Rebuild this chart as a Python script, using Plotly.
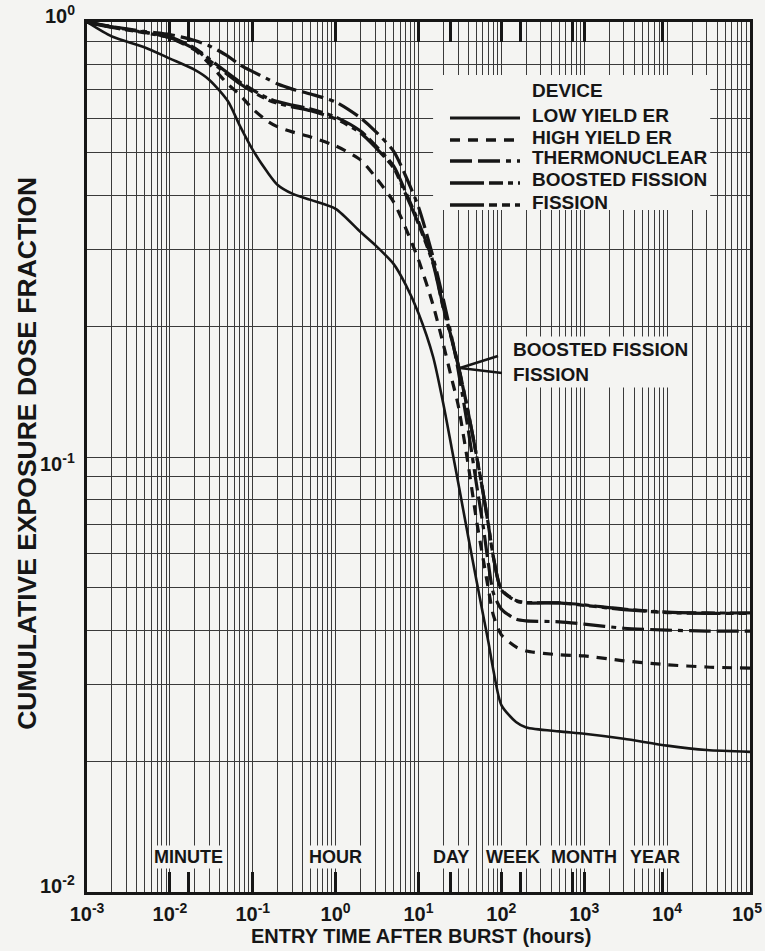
import numpy as np
import plotly.graph_objects as go

# ---------------- data ----------------
time_hours = [0.001, 0.002, 0.005, 0.01, 0.02, 0.03, 0.05, 0.07, 0.1, 0.15, 0.2, 0.3, 0.5,
              1, 2, 3, 5, 7, 10, 15, 20, 25, 30, 40, 50, 60, 70, 80, 100, 150, 200,
              500, 1000, 3000, 10000, 30000, 100000]

low_yield_er = [1.0, 0.926, 0.874, 0.824, 0.776, 0.736, 0.658, 0.577, 0.508, 0.452, 0.422, 0.403, 0.390,
                0.372, 0.329, 0.307, 0.278, 0.249, 0.214, 0.170, 0.132, 0.1055, 0.0877, 0.0652, 0.0521,
                0.0435, 0.0374, 0.0324, 0.0269, 0.0246, 0.0239, 0.0234, 0.0231, 0.0225, 0.0217, 0.0212, 0.0210]

high_yield_er = [1.0, 0.974, 0.948, 0.919, 0.862, 0.801, 0.720, 0.680, 0.631, 0.592, 0.574, 0.559, 0.544,
                 0.519, 0.482, 0.441, 0.386, 0.336, 0.284, 0.2236, 0.181, 0.152, 0.132, 0.0953, 0.0717,
                 0.0586, 0.0495, 0.0433, 0.0390, 0.0366, 0.0358, 0.0351, 0.0349, 0.0340, 0.0333, 0.0329, 0.0327]

thermonuclear = [1.0, 0.976, 0.951, 0.936, 0.907, 0.881, 0.835, 0.797, 0.769, 0.740, 0.720, 0.701, 0.683,
                 0.655, 0.602, 0.5615, 0.505, 0.4426, 0.3756, 0.288, 0.2296, 0.1897, 0.159, 0.1148, 0.0867,
                 0.0698, 0.0565, 0.0487, 0.0447, 0.0424, 0.0420, 0.0418, 0.0413, 0.0404, 0.0400, 0.0398, 0.0398]

boosted_fission = [1.0, 0.974, 0.946, 0.924, 0.871, 0.822, 0.763, 0.728, 0.698, 0.669, 0.656, 0.644, 0.631,
                   0.605, 0.5615, 0.521, 0.4667, 0.4066, 0.347, 0.2807, 0.2202, 0.188, 0.1637, 0.1262, 0.101,
                   0.0831, 0.0694, 0.0589, 0.0495, 0.0467, 0.0462, 0.0462, 0.0457, 0.0447, 0.0440, 0.0438, 0.0438]

fission = [1.0, 0.972, 0.944, 0.920, 0.866, 0.816, 0.756, 0.721, 0.691, 0.663, 0.650, 0.638, 0.625,
           0.599, 0.556, 0.516, 0.462, 0.402, 0.343, 0.278, 0.219, 0.187, 0.163, 0.126, 0.101,
           0.0832, 0.0695, 0.059, 0.0496, 0.0468, 0.0463, 0.0462, 0.0456, 0.0446, 0.0439, 0.0437, 0.0437]

series_names = ["LOW YIELD ER", "HIGH YIELD ER", "THERMONUCLEAR", "BOOSTED FISSION", "FISSION"]

x_tick_vals = [1e-3, 1e-2, 1e-1, 1, 10, 100, 1e3, 1e4, 1e5]
x_tick_text = ["10<sup>-3</sup>", "10<sup>-2</sup>", "10<sup>-1</sup>", "10<sup>0</sup>", "10<sup>1</sup>",
               "10<sup>2</sup>", "10<sup>3</sup>", "10<sup>4</sup>", "10<sup>5</sup>"]
y_tick_vals = [0.01, 0.1, 1]
y_tick_text = ["10<sup>-2</sup>", "10<sup>-1</sup>", "10<sup>0</sup>"]

# special time marks (hours): decades plus minute, hour, day, week, month, year
special_times = [0.01, 1 / 60, 0.1, 1, 10, 24, 100, 168, 720, 1000, 8760]
period_labels = ["MINUTE", "HOUR", "DAY", "WEEK", "MONTH", "YEAR"]
period_label_hours = [1 / 60, 1, 25, 138, 1000, 7200]

# ---------------- styling ----------------
INK = "#161616"
BG = "#f4f4f2"
FONT = "Liberation Sans, Arial, Helvetica, sans-serif"

dash_styles = {
    "LOW YIELD ER": "solid",
    "HIGH YIELD ER": "10px,8px",
    "THERMONUCLEAR": "22px,6px,22px,6px,5px,6px",
    "BOOSTED FISSION": "34px,5px,14px,5px,5px,5px",
    "FISSION": "34px,5px,8px,5px,8px,5px,5px,5px",
}
widths = {"LOW YIELD ER": 2.6, "HIGH YIELD ER": 3.2, "THERMONUCLEAR": 3.2,
          "BOOSTED FISSION": 3.2, "FISSION": 3.2}

values = {"LOW YIELD ER": low_yield_er, "HIGH YIELD ER": high_yield_er,
          "THERMONUCLEAR": thermonuclear, "BOOSTED FISSION": boosted_fission, "FISSION": fission}

fig = go.Figure()
for name in series_names:
    fig.add_trace(go.Scatter(
        x=time_hours, y=values[name], mode="lines", name=name,
        line=dict(color=INK, width=widths[name], dash=dash_styles[name], shape="spline", smoothing=0.7),
        showlegend=False,
    ))

# invisible trace to host the overlay axis with the special time ticks
fig.add_trace(go.Scatter(x=[None], y=[None], xaxis="x2", yaxis="y", showlegend=False, hoverinfo="skip"))

x_minor = [m * 10.0 ** k for k in range(-3, 5) for m in range(2, 10)]
y_minor = [m * 10.0 ** k for k in range(-2, 0) for m in range(2, 10)]

GRID = "#3a3a3a"

fig.update_layout(
    width=765, height=951,
    margin=dict(l=87, r=15, t=22, b=59),
    paper_bgcolor=BG, plot_bgcolor=BG,
    font=dict(family=FONT, color=INK),
    xaxis=dict(
        type="log", range=[-3, 5],
        tickvals=x_tick_vals[:-1], ticktext=["<b>%s</b>" % t for t in x_tick_text[:-1]],
        tickfont=dict(size=20, family=FONT, color=INK),
        ticks="", ticklabelstandoff=2,
        showgrid=True, gridcolor=GRID, gridwidth=1,
        minor=dict(tickvals=x_minor, showgrid=True, gridcolor=GRID, gridwidth=1, ticks=""),
        showline=True, linecolor=INK, linewidth=3, mirror=True, zeroline=False,
    ),
    xaxis2=dict(
        type="log", range=[-3, 5], overlaying="x", anchor="y", side="bottom",
        tickvals=special_times, ticks="inside", ticklen=20, tickwidth=3, tickcolor=INK,
        showticklabels=False, showgrid=False, showline=True, linecolor=INK, linewidth=3,
        mirror="ticks", zeroline=False,
    ),
    yaxis=dict(
        type="log", range=[-2, 0],
        tickvals=y_tick_vals, showticklabels=False, ticks="",
        showgrid=True, gridcolor=GRID, gridwidth=1,
        minor=dict(tickvals=y_minor, showgrid=True, gridcolor=GRID, gridwidth=1, ticks=""),
        showline=True, linecolor=INK, linewidth=3, mirror=True, zeroline=False,
    ),
)

annotations = []
shapes = []

# last x tick label drawn as an annotation so it stays inside the page edge
annotations.append(dict(xref="x", yref="paper", x=np.log10(x_tick_vals[-1]), y=0, yshift=-20, xshift=-3,
                        text="<b>%s</b>" % x_tick_text[-1], showarrow=False,
                        xanchor="center", yanchor="middle",
                        font=dict(size=20, family=FONT, color=INK)))

# y tick labels (placed as in the reference: 10^0 sits above the frame corner)
y_label_shift = [8, -5, 8]
for v, t, s in zip(y_tick_vals, y_tick_text, y_label_shift):
    annotations.append(dict(xref="paper", yref="y", x=-0.015, y=np.log10(v), yshift=s,
                            text="<b>%s</b>" % t, showarrow=False, xanchor="right", yanchor="middle",
                            font=dict(size=20, family=FONT, color=INK)))

# axis titles
annotations.append(dict(
    xref="paper", yref="paper", x=-0.0915, y=0.504, textangle=-90,
    text="<b>CUMULATIVE EXPOSURE DOSE FRACTION</b>", showarrow=False,
    font=dict(size=26.5, family=FONT, color=INK), xanchor="center", yanchor="middle"))
annotations.append(dict(
    xref="paper", yref="paper", x=0.504, y=-0.0505,
    text="<b>ENTRY TIME AFTER BURST (hours)</b>", showarrow=False,
    font=dict(size=20, family=FONT, color=INK), xanchor="center", yanchor="middle"))

# period labels along the bottom of the plot
for lab, hrs in zip(period_labels, period_label_hours):
    annotations.append(dict(
        xref="x", yref="paper", x=np.log10(hrs), y=0.0402,
        text="<b>%s</b>" % lab, showarrow=False, bgcolor=BG, borderpad=1,
        font=dict(size=18, family=FONT, color=INK), xanchor="center", yanchor="middle"))

# legend box (drawn by hand to match the long line samples)
shapes.append(dict(type="rect", xref="paper", yref="paper", x0=0.522, x1=0.940, y0=0.784, y1=0.939,
                   fillcolor=BG, line=dict(width=0), layer="above"))
annotations.append(dict(xref="paper", yref="paper", x=0.668, y=0.9207, text="<b>DEVICE</b>",
                        showarrow=False, xanchor="left", yanchor="middle",
                        font=dict(size=19, family=FONT, color=INK)))
legend_rows_text_y = [0.8931, 0.8678, 0.8437, 0.8184, 0.7931]
for name, ty in zip(series_names, legend_rows_text_y):
    shapes.append(dict(type="line", xref="paper", yref="paper", x0=0.5475, x1=0.6531,
                       y0=ty - 0.0035, y1=ty - 0.0035, layer="above",
                       line=dict(color=INK, width=widths[name] + 0.3, dash=dash_styles[name])))
    annotations.append(dict(xref="paper", yref="paper", x=0.668, y=ty, text="<b>%s</b>" % name,
                            showarrow=False, xanchor="left", yanchor="middle",
                            font=dict(size=19, family=FONT, color=INK)))

# callout for boosted fission / fission
annotations.append(dict(xref="paper", yref="paper", x=0.638, y=0.6090,
                        text="<b>BOOSTED FISSION<br>FISSION</b>", showarrow=False, align="left",
                        xanchor="left", yanchor="middle", bgcolor=BG, borderpad=2,
                        font=dict(size=19, family=FONT, color=INK)))
shapes.append(dict(type="line", xref="paper", yref="paper", x0=0.6199, y0=0.6161, x1=0.5626, y1=0.6023,
                   line=dict(color=INK, width=2.5), layer="above"))
shapes.append(dict(type="line", xref="paper", yref="paper", x0=0.5626, y0=0.6023, x1=0.6259, y1=0.5966,
                   line=dict(color=INK, width=2.5), layer="above"))

fig.update_layout(annotations=annotations, shapes=shapes)

fig.write_html("out.html", config={"displayModeBar": False},
               post_script="document.body.style.margin='0px';"
                           "document.body.style.overflow='hidden';"
                           "document.documentElement.style.overflow='hidden';")
